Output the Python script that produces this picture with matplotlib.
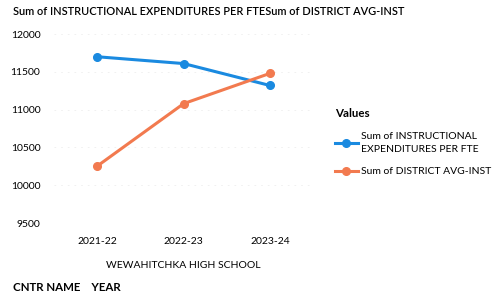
import matplotlib
matplotlib.use("Agg")
import matplotlib.pyplot as plt

plt.rcParams["font.family"] = ["Lato", "DejaVu Sans"]

YEARS = ["2021-22", "2022-23", "2023-24"]
INSTR_EXP = [11700, 11610, 11320]
DISTRICT_AVG = [10255, 11080, 11480]
Y_TICKS = [9500, 10000, 10500, 11000, 11500, 12000]

BLUE = "#1a8ae0"
ORANGE = "#f27a4f"

fig = plt.figure(figsize=(4.93, 2.99), dpi=100)
ax = fig.add_axes([0.11, 0.254, 0.525, 0.632])

x = range(len(YEARS))
l1, = ax.plot(x, INSTR_EXP, "o-", color=BLUE, lw=2.2, ms=5.5,
              label="Sum of INSTRUCTIONAL\nEXPENDITURES PER FTE")
l2, = ax.plot(x, DISTRICT_AVG, "o-", color=ORANGE, lw=2.2, ms=5.5,
              label="Sum of DISTRICT AVG-INST")

ax.set_xlim(-0.5, 2.5)
ax.set_ylim(9500, 12000)
ax.set_yticks(Y_TICKS)
ax.set_yticklabels([str(v) for v in Y_TICKS], fontsize=7.5)
ax.set_xticks(list(x))
ax.set_xticklabels(YEARS, fontsize=7.5)
ax.tick_params(length=0, pad=10)
ax.tick_params(axis="y", pad=10)
ax.grid(axis="y", color="#eeeeee", lw=0.6, ls=(0, (2, 6)))
for s in ax.spines.values():
    s.set_visible(False)

ax.set_xlabel("WEWAHITCHKA HIGH SCHOOL", fontsize=7.5, labelpad=11)

fig.text(0.026, 0.962, "Sum of INSTRUCTIONAL EXPENDITURES PER FTESum of DISTRICT AVG-INST",
         fontsize=7.9, va="center", ha="left", fontweight="semibold")
fig.text(0.026, 0.04, "CNTR NAME    YEAR", fontsize=8.3, va="center", ha="left",
         fontweight="bold")

leg = fig.legend(handles=[l1, l2], loc="upper left", bbox_to_anchor=(0.66, 0.67),
                 title="Values", frameon=False, fontsize=7.5, title_fontsize=8.3,
                 handlelength=2.2, handletextpad=0.3, alignment="left",
                 labelspacing=1.25)
leg.get_title().set_fontweight("bold")
for t in leg.get_texts():
    t.set_linespacing(1.55)

fig.savefig("out.png", dpi=100)
